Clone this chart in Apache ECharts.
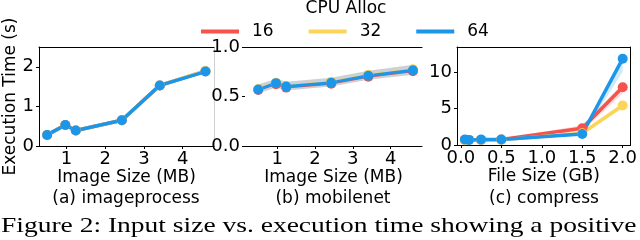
<!DOCTYPE html>
<html><head><meta charset="utf-8">
<script src="https://cdn.jsdelivr.net/npm/echarts@6/dist/echarts.min.js"></script>
<style>html,body{margin:0;padding:0;background:#fff}#c{width:640px;height:240px}</style>
</head><body><div id="c"></div>
<script>
// ---- data ----
const seriesNames = ['16', '32', '64'];
const imgSize = [0.5, 0.97, 1.24, 2.43, 3.41, 4.59];
const imageprocess16 = [0.28, 0.53, 0.39, 0.65, 1.53, 1.89];
const imageprocess32 = [0.28, 0.53, 0.39, 0.65, 1.53, 1.90];
const imageprocess64 = [0.28, 0.53, 0.39, 0.65, 1.53, 1.88];
const mobilenet16 = [0.565, 0.625, 0.59, 0.63, 0.70, 0.755];
const mobilenet32 = [0.575, 0.64, 0.605, 0.65, 0.72, 0.775];
const mobilenet64 = [0.57, 0.635, 0.60, 0.64, 0.71, 0.765];
const mobilenetLow = [0.53, 0.59, 0.56, 0.60, 0.67, 0.72];
const mobilenetHigh = [0.62, 0.68, 0.65, 0.69, 0.76, 0.82];
const fileSize = [0.05, 0.1, 0.25, 0.5, 1.5, 2.0];
const compress16 = [0.7, 0.7, 0.7, 0.75, 2.3, 7.9];
const compress32 = [0.65, 0.65, 0.7, 0.7, 1.6, 5.4];
const compress64 = [0.75, 0.7, 0.75, 0.75, 1.5, 11.8];
const compress16Low = [0.6, 0.6, 0.6, 0.65, 1.9, 7.0];
const compress16High = [0.8, 0.8, 0.8, 0.85, 2.7, 8.4];
const compress32Low = [0.55, 0.55, 0.6, 0.6, 1.4, 5.0];
const compress32High = [0.75, 0.75, 0.8, 0.8, 1.8, 5.8];
const compress64Low = [0.65, 0.6, 0.65, 0.65, 1.3, 10.0];
const compress64High = [0.85, 0.8, 0.85, 0.85, 1.7, 12.3];
const xTicksA = [1, 2, 3, 4];
const yTicksA = [0, 1, 2];
const yTicksB = [0, 0.5, 1.0];
const xTicksC = [0, 0.5, 1.0, 1.5, 2.0];
const yTicksC = [0, 5, 10];
const captionText = 'Figure 2: Input size vs. execution time showing a positive';

const colors = ['#f5534b', '#fbd55a', '#1b96e8'];
const FONT = 'DejaVu Sans';
const TICKFONT = 18;

const chart = echarts.init(document.getElementById('c'), null, {renderer: 'canvas'});

function bottomAxis(gi, min, max, ticks, fmt) {
  return {type: 'value', gridIndex: gi, min, max, position: 'bottom',
    axisLine: {show: true, lineStyle: {color: '#000', width: 1}},
    axisTick: {show: true, length: 3, lineStyle: {color: '#000'}, customValues: ticks},
    axisLabel: {show: true, customValues: ticks, formatter: fmt, color: '#000', fontFamily: FONT, fontSize: TICKFONT, margin: 4},
    splitLine: {show: false}};
}
function topAxis(gi, min, max, show) {
  return {type: 'value', gridIndex: gi, min, max, position: 'top',
    axisLine: {show: true, onZero: false, lineStyle: {color: show, width: 1}},
    axisTick: {show: false}, axisLabel: {show: false}, splitLine: {show: false}};
}
function leftAxis(gi, min, max, ticks, fmt, lineColor) {
  return {type: 'value', gridIndex: gi, min, max, position: 'left',
    axisLine: {show: lineColor !== null, onZero: false, lineStyle: {color: lineColor || '#000', width: 1}},
    axisTick: {show: true, length: 3, lineStyle: {color: '#000'}, customValues: ticks},
    axisLabel: {show: true, customValues: ticks, formatter: fmt, color: '#000', fontFamily: FONT, fontSize: TICKFONT, margin: 5},
    splitLine: {show: false}};
}
function rightAxis(gi, min, max, lineColor) {
  return {type: 'value', gridIndex: gi, min, max, position: 'right',
    axisLine: {show: lineColor !== null, onZero: false, lineStyle: {color: lineColor || '#000', width: 1}},
    axisTick: {show: false}, axisLabel: {show: false}, splitLine: {show: false}};
}

function lineSeries(gi, name, xs, ys, color, width) {
  return {type: 'line', name, xAxisIndex: gi, yAxisIndex: gi,
    data: xs.map((x, k) => [x, ys[k]]),
    symbol: 'circle', symbolSize: 10, showSymbol: true,
    lineStyle: {color, width}, itemStyle: {color}, z: 3, animation: false};
}
function bandSeries(gi, xs, lo, hi, color, opacity) {
  return {type: 'custom', xAxisIndex: gi, yAxisIndex: gi, silent: true, z: 1,
    data: xs.map((x, k) => [x, lo[k], hi[k]]),
    encode: {x: 0, y: [1, 2]},
    animation: false,
    renderItem: (params, api) => {
      if (params.dataIndex !== 0) return null;
      const pts = [];
      for (let k = 0; k < xs.length; k++) pts.push(api.coord([xs[k], lo[k]]));
      for (let k = xs.length - 1; k >= 0; k--) pts.push(api.coord([xs[k], hi[k]]));
      return {type: 'polygon', shape: {points: pts}, style: {fill: color, opacity}};
    }};
}

const f1 = v => v.toFixed(1);
const f0 = v => String(Math.round(v));
const nameStyle = {fontFamily: FONT, fontSize: 17, color: '#000'};
const capStyle = {fontFamily: FONT, fontSize: 17, fontWeight: 'normal', color: '#000'};

const option = {
  animation: false,
  grid: [
    {left: 39, top: 47, width: 175, height: 99},
    {left: 245, top: 47, width: 177, height: 99},
    {left: 457, top: 47, width: 174, height: 98}
  ],
  xAxis: [
    Object.assign(bottomAxis(0, 0.29, 4.81, xTicksA, f0), {name: 'Image Size (MB)', nameLocation: 'middle', nameGap: 23, nameTextStyle: nameStyle}),
    Object.assign(bottomAxis(1, 0.15, 4.83, xTicksA, f0), {name: 'Image Size (MB)', nameLocation: 'middle', nameGap: 23, nameTextStyle: nameStyle}),
    Object.assign(bottomAxis(2, -0.0475, 2.0975, xTicksC, f1), {name: 'File Size (GB)', nameLocation: 'middle', nameGap: 23, nameTextStyle: nameStyle}),
    topAxis(0, 0.29, 4.81, '#000'),
    topAxis(1, 0.15, 4.83, '#000'),
    topAxis(2, -0.0475, 2.0975, '#000')
  ],
  yAxis: [
    Object.assign(leftAxis(0, 0, 2.5, yTicksA, f0, '#000'), {name: 'Execution Time (s)', nameLocation: 'middle', nameGap: 19, nameTextStyle: nameStyle}),
    leftAxis(1, 0, 1.0, yTicksB, f1, null),
    leftAxis(2, 0, 13.4, yTicksC, f0, '#000'),
    rightAxis(0, 0, 2.5, '#d0d0d0'),
    rightAxis(1, 0, 1.0, null),
    rightAxis(2, 0, 13.4, '#000')
  ],
  title: [
    {text: 'CPU Alloc', left: 346, top: 0, textAlign: 'center', padding: 0, textStyle: capStyle},
    {text: '(a) imageprocess', left: 126, top: 190, textAlign: 'center', padding: 0, textStyle: capStyle},
    {text: '(b) mobilenet', left: 333, top: 190, textAlign: 'center', padding: 0, textStyle: capStyle},
    {text: '(c) compress', left: 544, top: 190, textAlign: 'center', padding: 0, textStyle: capStyle}
  ],
  graphic: [
    {type: 'text', x: 1, y: 215, scaleX: 1.25, scaleY: 1, silent: true,
      style: {text: captionText, font: '22px "Liberation Serif"', fill: '#000', textVerticalAlign: 'top'}}
  ],
  legend: {
    data: seriesNames, left: 201, top: 23, padding: 0,
    icon: 'rect', itemWidth: 38, itemHeight: 4, itemGap: 35,
    textStyle: {fontFamily: FONT, fontSize: 17, color: '#000', padding: [0, 0, 0, 8]}
  },
  series: [
    lineSeries(0, '16', imgSize, imageprocess16, colors[0], 3.5),
    lineSeries(0, '32', imgSize, imageprocess32, colors[1], 3.5),
    lineSeries(0, '64', imgSize, imageprocess64, colors[2], 3.5),
    bandSeries(1, imgSize, mobilenetLow, mobilenetHigh, '#c4c9ce', 0.85),
    lineSeries(1, '16', imgSize, mobilenet16, colors[0], 2),
    lineSeries(1, '32', imgSize, mobilenet32, colors[1], 2),
    lineSeries(1, '64', imgSize, mobilenet64, colors[2], 3),
    bandSeries(2, fileSize, compress16Low, compress16High, colors[0], 0.2),
    bandSeries(2, fileSize, compress32Low, compress32High, colors[1], 0.2),
    bandSeries(2, fileSize, compress64Low, compress64High, colors[2], 0.2),
    lineSeries(2, '16', fileSize, compress16, colors[0], 3.5),
    lineSeries(2, '32', fileSize, compress32, colors[1], 3.5),
    lineSeries(2, '64', fileSize, compress64, colors[2], 3.5)
  ]
};
chart.setOption(option);
</script></body></html>
